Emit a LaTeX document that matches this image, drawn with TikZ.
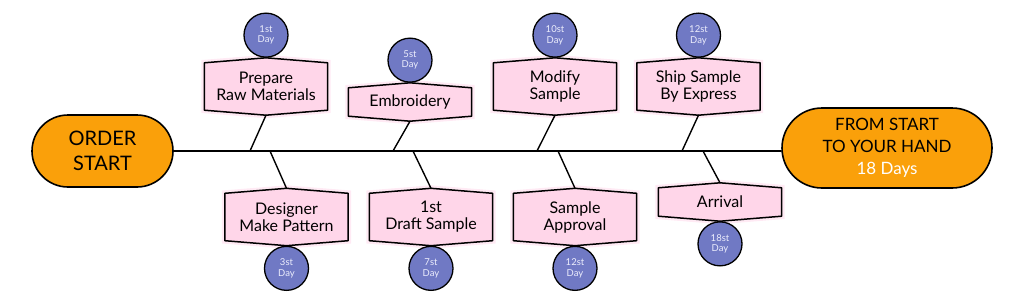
\documentclass[tikz,border=0pt]{standalone}
\usepackage{fontspec}
\setmainfont{Lato}
\usetikzlibrary{positioning,shapes.misc,backgrounds}
\definecolor{startorange}{RGB}{250,160,10}
\definecolor{taskpink}{RGB}{255,214,233}
\definecolor{glowpink}{RGB}{255,234,244}
\definecolor{dayblue}{RGB}{112,121,196}
\definecolor{daytext}{RGB}{236,237,252}

\tikzset{
  endcap/.style={rounded rectangle, draw=black, line width=1.6pt, fill=startorange, align=center, inner sep=0pt},
  taskbox/.style={minimum width=123pt, minimum height=47pt, inner sep=0pt, align=center, font=\fontsize{16}{17}\selectfont},
  shortbox/.style={taskbox, minimum height=28pt},
  taskline/.style={draw=black, line width=1.5pt, fill=taskpink, line join=round, preaction={draw=glowpink, line width=6pt}},
  daydot/.style={circle, draw=black, line width=1.3pt, fill=dayblue, minimum size=44pt, inner sep=0pt, align=center, text=daytext, font=\fontsize{9.5}{10.5}\selectfont},
  bone/.style={line width=1.4pt, line cap=round},
}

% pointed box drawn behind a task node
\newcommand{\taskshape}[1]{%
  \begin{pgfonlayer}{background}
    \path[taskline] (#1.north west) -- ([yshift=5pt]#1.north) -- (#1.north east)
      -- (#1.south east) -- ([yshift=-5pt]#1.south) -- (#1.south west) -- cycle;
  \end{pgfonlayer}}

\begin{document}
\begin{tikzpicture}[x=1pt,y=1pt]
  \useasboundingbox (0,0) rectangle (1024,301);

  % ends of the spine
  \node (start) [endcap, minimum width=141pt, minimum height=72pt, font=\fontsize{20}{25}\selectfont] at (102.5,150) {ORDER\\START};
  \node (finish) [endcap, minimum width=210pt, minimum height=80pt, font=\fontsize{17}{22}\selectfont] at (887,153) {FROM START\\TO YOUR HAND\\{\color{white}18 Days}};
  \draw[bone] (start.east) -- (start.east -| finish.west);

  % upper steps
  \node (raw) [taskbox] at (266,214.5) {Prepare\\Raw Materials};
  \node (embroid) [shortbox] at (410,199) {Embroidery};
  \node (modify) [taskbox] at (555,214.5) {Modify\\Sample};
  \node (ship) [taskbox] at (698.5,214.5) {Ship Sample\\By Express};
  \foreach \n in {raw,embroid,modify,ship} {\taskshape{\n}}

  \node (d1) [daydot, above=5pt of raw] {1st\\Day};
  \node (d5) [daydot, above=5pt of embroid] {5st\\Day};
  \node (d10) [daydot, above=5pt of modify] {10st\\Day};
  \node (d12a) [daydot, above=5pt of ship] {12st\\Day};

  % lower steps
  \node (pattern) [taskbox] at (286.5,84) {Designer\\Make Pattern};
  \node (draft) [taskbox] at (431,84) {1st\\Draft Sample};
  \node (approve) [taskbox] at (575,84) {Sample\\Approval};
  \node (arrive) [shortbox] at (720,99) {Arrival};
  \foreach \n in {pattern,draft,approve,arrive} {\taskshape{\n}}

  \node (d3) [daydot, below=5pt of pattern] {3st\\Day};
  \node (d7) [daydot, below=5pt of draft] {7st\\Day};
  \node (d12b) [daydot, below=5pt of approve] {12st\\Day};
  \node (d18) [daydot, below=5pt of arrive] {18st\\Day};

  % branches
  \coordinate (s1) at (250,150);
  \coordinate (s2) at (393,150);
  \coordinate (s3) at (537,150);
  \coordinate (s4) at (682,150);
  \coordinate (s5) at (270,150);
  \coordinate (s6) at (413,150);
  \coordinate (s7) at (558,150);
  \coordinate (s8) at (703,150);
  \draw[bone] ([yshift=-5pt]raw.south) -- (s1);
  \draw[bone] ([yshift=-5pt]embroid.south) -- (s2);
  \draw[bone] ([yshift=-5pt]modify.south) -- (s3);
  \draw[bone] ([yshift=-5pt]ship.south) -- (s4);
  \draw[bone] (s5) -- ([yshift=5pt]pattern.north);
  \draw[bone] (s6) -- ([yshift=5pt]draft.north);
  \draw[bone] (s7) -- ([yshift=5pt]approve.north);
  \draw[bone] (s8) -- ([yshift=5pt]arrive.north);
\end{tikzpicture}
\end{document}
